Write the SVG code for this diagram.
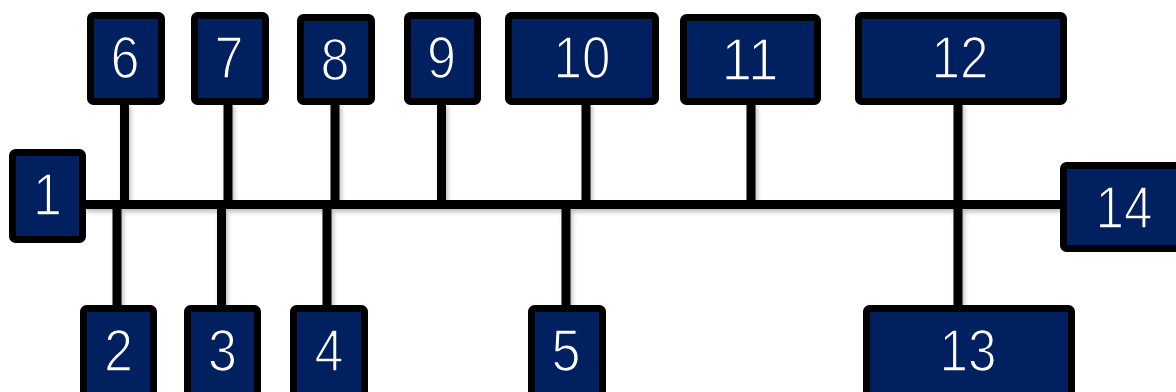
<svg xmlns="http://www.w3.org/2000/svg" width="1176" height="392" viewBox="0 0 1176 392">
<style>
.box{fill:#002060;stroke:#000;stroke-width:7;}
.lbl{font-family:"Liberation Sans",Arial,sans-serif;font-size:60px;fill:#fff;text-anchor:middle;stroke:#002060;stroke-width:1.6px;paint-order:fill;}
.ln{stroke:#000;stroke-width:9;fill:none;}
</style>
<defs>
<filter id="sh" x="-5%" y="-20%" width="110%" height="140%">
<feDropShadow dx="2" dy="3" stdDeviation="2" flood-color="#000" flood-opacity="0.25"/>
</filter>
</defs>
<rect width="1176" height="392" fill="#fff"/>
<g id="connectors" filter="url(#sh)">
<line class="ln" x1="84" y1="204.5" x2="1064" y2="204.5"/>
<line class="ln" x1="124.5" y1="103" x2="124.5" y2="204.5"/>
<line class="ln" x1="228" y1="103" x2="228" y2="204.5"/>
<line class="ln" x1="335" y1="103" x2="335" y2="204.5"/>
<line class="ln" x1="441.5" y1="103" x2="441.5" y2="204.5"/>
<line class="ln" x1="586" y1="103" x2="586" y2="204.5"/>
<line class="ln" x1="751" y1="103" x2="751" y2="204.5"/>
<line class="ln" x1="958" y1="103" x2="958" y2="307"/>
<line class="ln" x1="117" y1="204.5" x2="117" y2="307"/>
<line class="ln" x1="221.5" y1="204.5" x2="221.5" y2="307"/>
<line class="ln" x1="327" y1="204.5" x2="327" y2="307"/>
<line class="ln" x1="566" y1="204.5" x2="566" y2="307"/>
</g>
<g id="n1"><rect class="box" x="12.5" y="152.5" width="70" height="87" rx="3"/><text class="lbl" x="47.5" y="215" textLength="29" lengthAdjust="spacingAndGlyphs">1</text></g>
<g id="n2"><rect class="box" x="83.5" y="308.5" width="70" height="90" rx="3"/><text class="lbl" x="118.5" y="371" textLength="29" lengthAdjust="spacingAndGlyphs">2</text></g>
<g id="n3"><rect class="box" x="187.5" y="308.5" width="70" height="90" rx="3"/><text class="lbl" x="222.5" y="371" textLength="29" lengthAdjust="spacingAndGlyphs">3</text></g>
<g id="n4"><rect class="box" x="293.5" y="308.5" width="71" height="90" rx="3"/><text class="lbl" x="329" y="371" textLength="29" lengthAdjust="spacingAndGlyphs">4</text></g>
<g id="n5"><rect class="box" x="531.5" y="308.5" width="71" height="90" rx="3"/><text class="lbl" x="566" y="371" textLength="29" lengthAdjust="spacingAndGlyphs">5</text></g>
<g id="n6"><rect class="box" x="90.5" y="15.5" width="71" height="86" rx="3"/><text class="lbl" x="125" y="78" textLength="29" lengthAdjust="spacingAndGlyphs">6</text></g>
<g id="n7"><rect class="box" x="194.5" y="15.5" width="71" height="86" rx="3"/><text class="lbl" x="229" y="78" textLength="29" lengthAdjust="spacingAndGlyphs">7</text></g>
<g id="n8"><rect class="box" x="300.5" y="17.5" width="71" height="84" rx="3"/><text class="lbl" x="335" y="80" textLength="29" lengthAdjust="spacingAndGlyphs">8</text></g>
<g id="n9"><rect class="box" x="407.5" y="15.5" width="70" height="86" rx="3"/><text class="lbl" x="441.5" y="78" textLength="29" lengthAdjust="spacingAndGlyphs">9</text></g>
<g id="n10"><rect class="box" x="508.5" y="15.5" width="147" height="86" rx="3"/><text class="lbl" x="582" y="78" textLength="57" lengthAdjust="spacingAndGlyphs">10</text></g>
<g id="n11"><rect class="box" x="683.5" y="17.5" width="134" height="84" rx="3"/><text class="lbl" x="750" y="80" textLength="57" lengthAdjust="spacingAndGlyphs">11</text></g>
<g id="n12"><rect class="box" x="858.5" y="15.5" width="205" height="86" rx="3"/><text class="lbl" x="960" y="78" textLength="57" lengthAdjust="spacingAndGlyphs">12</text></g>
<g id="n13"><rect class="box" x="866.5" y="308.5" width="205" height="90" rx="3"/><text class="lbl" x="968" y="371" textLength="57" lengthAdjust="spacingAndGlyphs">13</text></g>
<g id="n14"><rect class="box" x="1063.5" y="165.5" width="130" height="83" rx="3"/><text class="lbl" x="1124" y="228" textLength="57" lengthAdjust="spacingAndGlyphs">14</text></g>
</svg>
